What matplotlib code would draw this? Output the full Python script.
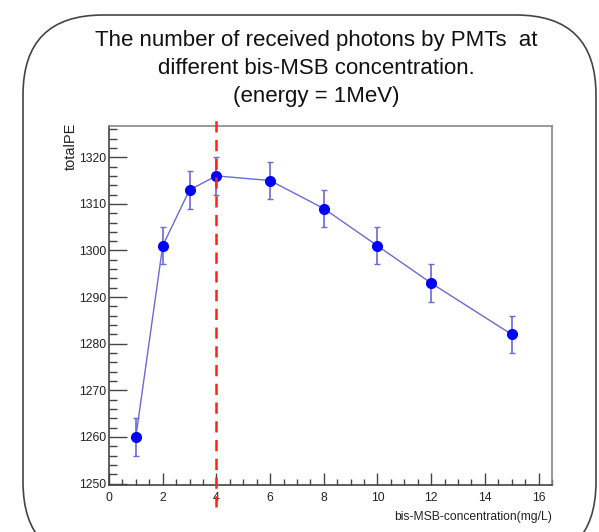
import matplotlib
matplotlib.use("Agg")
import matplotlib.pyplot as plt
from matplotlib.patches import FancyBboxPatch
from matplotlib.ticker import MultipleLocator

plt.rcParams['font.family'] = ['Liberation Sans', 'DejaVu Sans']

# bis-MSB concentration (mg/L) and total photoelectrons
concentration = [1, 2, 3, 4, 6, 8, 10, 12, 15]
total_pe = [1260, 1301, 1313, 1316, 1315, 1309, 1301, 1293, 1282]
total_pe_err = [4, 4, 4, 4, 4, 4, 4, 4, 4]
optimum = 4

title_lines = ["The number of received photons by PMTs  at",
               "different bis-MSB concentration.",
               "(energy = 1MeV)"]

W, H = 599, 532
fig = plt.figure(figsize=(W / 100, H / 100), dpi=100)
fig.patch.set_facecolor("white")

# rounded slide frame (pixel coordinates)
frame = FancyBboxPatch((23, -30), 573, 547, boxstyle="round,pad=0,rounding_size=80",
                       transform=None, fill=False, edgecolor="#444444", linewidth=1.2)
fig.patches.append(frame)

for i, line in enumerate(title_lines):
    fig.text(316 / W, 1 - (46 + i * 28) / H, line, ha="center", va="baseline",
             fontsize=16, color="#111111")

ax = fig.add_axes([109 / W, 1 - 485 / H, (552 - 109) / W, (485 - 126) / H])
ax.set_xlim(0, 16.5)
ax.set_ylim(1249.7, 1326.7)

line_col = "#6a6ad8"
ax.errorbar(concentration, total_pe, yerr=total_pe_err, fmt="-", color=line_col,
            ecolor=line_col, elinewidth=1.2, capsize=2, capthick=1.0, linewidth=1.0,
            zorder=2)
ax.plot(concentration, total_pe, "o", color="#0000ff", markersize=7, zorder=3)

ax.axvline(optimum, ymin=-0.061, ymax=1.022, color="#ff2020", linestyle=(0, (4.5, 3)),
           linewidth=1.8, clip_on=False, zorder=4)

ax.xaxis.set_major_locator(MultipleLocator(2))
ax.xaxis.set_minor_locator(MultipleLocator(0.5))
ax.yaxis.set_major_locator(MultipleLocator(10))
ax.yaxis.set_minor_locator(MultipleLocator(2))

ax.tick_params(axis="x", which="major", direction="in", length=9, width=1.0,
               color="#444444", labelsize=8.8, labelcolor="#222222", pad=5)
ax.tick_params(axis="x", which="minor", direction="in", length=4.5, width=1.0,
               color="#444444")
ax.tick_params(axis="y", which="major", direction="in", length=13, width=1.0,
               color="#444444", labelsize=8.8, labelcolor="#222222", pad=2)
ax.tick_params(axis="y", which="minor", direction="in", length=6, width=1.0,
               color="#444444")

for side in ("left", "bottom"):
    ax.spines[side].set_color("#444444")
    ax.spines[side].set_linewidth(1.2)
for side in ("top", "right"):
    ax.spines[side].set_color("#888888")
    ax.spines[side].set_linewidth(1.2)

fig.text(552 / W, 1 - 517 / H, "bis-MSB-concentration(mg/L)", ha="right", va="center",
         fontsize=8.7, color="#222222")
fig.text(71 / W, 1 - 123 / H, "totalPE", ha="center", va="top", rotation=90,
         fontsize=10.5, color="#222222")

fig.savefig("out.png", dpi=100)
